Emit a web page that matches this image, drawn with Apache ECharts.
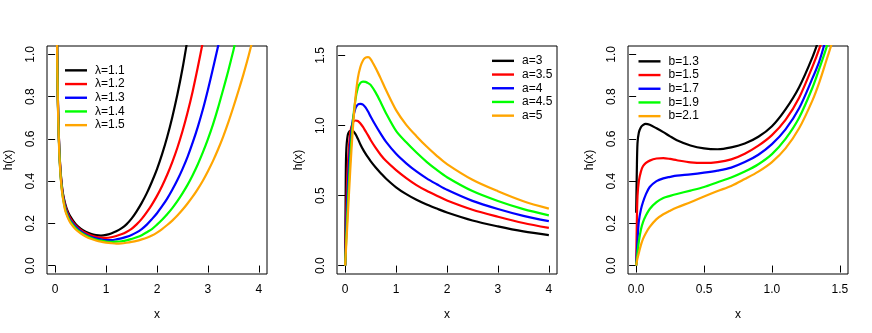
<!DOCTYPE html>
<html><head><meta charset="utf-8">
<script src="https://cdn.jsdelivr.net/npm/echarts@6/dist/echarts.min.js"></script>
<style>html,body{margin:0;padding:0;background:#fff}#c{width:872px;height:333px}</style>
</head><body><div id="c"></div>
<script>
// ---------- colours ----------
const lineColors = ['#000000', '#FF0000', '#0000FF', '#00FF00', '#FFA500'];

// ---------- panel 1 : lambda ----------
const names1 = ['λ=1.1', 'λ=1.2', 'λ=1.3', 'λ=1.4', 'λ=1.5'];
const x1 = [0.03,0.04,0.05,0.06,0.08,0.1,0.12,0.15,0.2,0.25,0.3,0.4,0.5,0.6,0.7,0.8,0.9,1.0,1.1,1.2,1.3,1.4,1.5,1.6,1.7,1.8,1.9,2.0,2.1,2.2,2.3,2.4,2.5,2.6,2.7,2.8,2.9,3.0,3.1,3.2,3.3,3.4,3.5,3.6,3.7,3.8,3.9,4.0];
const lam11 = [1.3,1.02,.85,.72,.56,.47,.41,.345,.29,.255,.232,.197,.175,.16,.15,.144,.142,.145,.152,.162,.176,.195,.222,.257,.297,.343,.397,.457,.528,.609,.703,.810,.932,1.073,1.218];
const lam12 = [1.3,1.02,.844,.72,.562,.465,.403,.341,.283,.247,.223,.191,.169,.154,.143,.136,.132,.131,.134,.140,.148,.159,.174,.195,.221,.253,.289,.330,.377,.430,.490,.558,.636,.725,.825,.938,1.059,1.188];
const lam13 = [1.28,1.01,.83,.71,.557,.456,.394,.334,.274,.239,.214,.185,.163,.147,.136,.129,.124,.121,.121,.124,.129,.136,.145,.157,.173,.194,.220,.248,.281,.317,.359,.405,.457,.515,.582,.656,.739,.833,.935,1.040,1.157];
const lam14 = [1.27,.991,.817,.706,.548,.449,.390,.327,.265,.231,.208,.178,.157,.143,.132,.123,.118,.114,.112,.113,.115,.119,.126,.134,.144,.158,.173,.194,.217,.243,.272,.305,.342,.382,.428,.479,.536,.599,.669,.748,.834,.923,1.019,1.123];
const lam15 = [1.25,.98,.815,.698,.540,.450,.384,.323,.258,.226,.202,.172,.153,.138,.127,.119,.113,.109,.106,.104,.105,.108,.112,.117,.124,.132,.142,.156,.173,.192,.213,.237,.264,.294,.326,.362,.402,.447,.496,.551,.611,.678,.751,.828,.908,.995,1.090];
const xTicks1 = [0, 1, 2, 3, 4];
const yTicks1 = [0, 0.2, 0.4, 0.6, 0.8, 1.0];

// ---------- panel 2 : a ----------
const names2 = ['a=3', 'a=3.5', 'a=4', 'a=4.5', 'a=5'];
const x2 = [0,0.01,0.02,0.05,0.1,0.15,0.2,0.25,0.3,0.35,0.4,0.45,0.5,0.6,0.7,0.8,1.0,1.2,1.4,1.6,1.8,2.0,2.5,3.0,3.5,4.0];
const a30 = [0,.5,.8,.93,.963,.962,.94,.905,.865,.83,.8,.772,.746,.70,.66,.622,.559,.510,.470,.436,.407,.379,.322,.280,.244,.217];
const a35 = [0,.2,.38,.7,.95,1.02,1.036,1.033,1.015,.99,.96,.93,.897,.84,.79,.748,.682,.625,.575,.534,.499,.465,.399,.349,.304,.269];
const a40 = [0,.12,.25,.55,.87,1.04,1.12,1.15,1.155,1.15,1.13,1.10,1.065,1.0,.94,.885,.798,.73,.672,.623,.581,.541,.462,.404,.355,.317];
const a45 = [0,.09,.18,.42,.77,1.02,1.18,1.27,1.305,1.314,1.312,1.303,1.29,1.235,1.165,1.09,.962,.88,.807,.741,.683,.631,.532,.461,.403,.359];
const a50 = [0,.07,.14,.34,.68,.97,1.19,1.34,1.42,1.465,1.485,1.488,1.475,1.41,1.335,1.255,1.11,1.005,.924,.850,.784,.725,.613,.531,.460,.407];
const xTicks2 = [0, 1, 2, 3, 4];
const yTicks2 = [0, 0.5, 1.0, 1.5];

// ---------- panel 3 : b ----------
const names3 = ['b=1.3', 'b=1.5', 'b=1.7', 'b=1.9', 'b=2.1'];
const x3 = [0,0.005,0.01,0.02,0.035,0.05,0.07,0.1,0.15,0.2,0.25,0.3,0.4,0.5,0.6,0.7,0.8,0.9,1.0,1.1,1.2,1.3,1.35,1.4,1.45,1.5];
const b13 = [.25,.45,.58,.63,.655,.665,.671,.667,.65,.632,.612,.594,.569,.555,.551,.56,.578,.61,.66,.74,.845,.99,1.08];
const b15 = [0,.2,.33,.40,.445,.47,.485,.497,.507,.509,.505,.499,.489,.486,.49,.503,.53,.568,.618,.69,.795,.945,1.03,1.13];
const b17 = [0,.06,.12,.21,.265,.30,.335,.372,.40,.413,.42,.426,.432,.44,.45,.464,.49,.525,.575,.645,.745,.89,.97,1.08];
const b19 = [0,.03,.06,.115,.17,.205,.235,.268,.30,.32,.33,.339,.355,.372,.395,.417,.445,.48,.528,.60,.70,.845,.935,1.03,1.14];
const b21 = [0,.018,.035,.06,.097,.125,.152,.183,.22,.243,.26,.275,.30,.327,.353,.377,.41,.445,.49,.555,.65,.785,.87,.97,1.07];
const xTicks3 = [0, 0.5, 1.0, 1.5];
const yTicks3 = [0, 0.2, 0.4, 0.6, 0.8, 1.0];

// ---------- build ----------
const FONT = 'Liberation Sans, Arial, Helvetica, sans-serif';
function pairs(xs, ys) { return ys.map((y, i) => [xs[i], y]); }

const panels = [
  { left: 47, xMin: -0.16, xMax: 4.16, yMin: -0.04, yMax: 1.04, xt: xTicks1, yt: yTicks1, xDec: 0,
    xs: x1, ys: [lam11, lam12, lam13, lam14, lam15], names: names1, legLeft: 65, legTop: 63.5 },
  { left: 337, xMin: -0.16, xMax: 4.16, yMin: -0.06, yMax: 1.568, xt: xTicks2, yt: yTicks2, xDec: 0,
    xs: x2, ys: [a30, a35, a40, a45, a50], names: names2, legLeft: 492, legTop: 54 },
  { left: 628, xMin: -0.06, xMax: 1.56, yMin: -0.04, yMax: 1.04, xt: xTicks3, yt: yTicks3, xDec: 1,
    xs: x3, ys: [b13, b15, b17, b19, b21], names: names3, legLeft: 638.5, legTop: 54.5 }
];

const grid = [], xAxis = [], yAxis = [], series = [], legend = [];
panels.forEach((p, k) => {
  grid.push({ left: p.left, top: 46, width: 220, height: 228, show: true,
    borderColor: '#000', borderWidth: 1, backgroundColor: 'transparent', containLabel: false });
  xAxis.push({ type: 'value', gridIndex: k, min: p.xMin, max: p.xMax,
    name: 'x', nameLocation: 'middle', nameGap: 35,
    nameTextStyle: { fontFamily: FONT, fontSize: 12, color: '#000' },
    axisLine: { show: false },
    axisTick: { show: true, inside: false, length: 7, customValues: p.xt, lineStyle: { color: '#000', width: 1 } },
    axisLabel: { show: true, customValues: p.xt, margin: 10, fontFamily: FONT, fontSize: 12, color: '#000',
      formatter: v => Number(v).toFixed(p.xDec) },
    splitLine: { show: false } });
  yAxis.push({ type: 'value', gridIndex: k, min: p.yMin, max: p.yMax,
    name: 'h(x)', nameLocation: 'middle', nameGap: 32, nameRotate: 90,
    nameTextStyle: { fontFamily: FONT, fontSize: 12, color: '#000' },
    axisLine: { show: false },
    axisTick: { show: true, inside: false, length: 7, customValues: p.yt, lineStyle: { color: '#000', width: 1 } },
    axisLabel: { show: true, customValues: p.yt, margin: 10, rotate: 90, fontFamily: FONT, fontSize: 12, color: '#000',
      formatter: v => Number(v).toFixed(1) },
    splitLine: { show: false } });
  p.ys.forEach((ys, i) => {
    series.push({ type: 'line', name: p.names[i], xAxisIndex: k, yAxisIndex: k,
      data: pairs(p.xs, ys), showSymbol: false, smooth: 0.3,
      clip: true, lineStyle: { color: lineColors[i], width: 2.2, join: 'round' }, itemStyle: { color: lineColors[i] },
      silent: true });
  });
  legend.push({ show: true, data: p.names, orient: 'vertical', left: p.legLeft, top: p.legTop,
    icon: 'rect', itemWidth: 22, itemHeight: 2.4, itemGap: 0, selectedMode: false, padding: 0,
    textStyle: { fontFamily: FONT, fontSize: 12, color: '#000', lineHeight: 13.7, padding: [0, 0, 0, 3] } });
});

const chart = echarts.init(document.getElementById('c'), null, { renderer: 'canvas' });
chart.setOption({ animation: false, backgroundColor: '#fff', grid, xAxis, yAxis, series, legend });
</script></body></html>
